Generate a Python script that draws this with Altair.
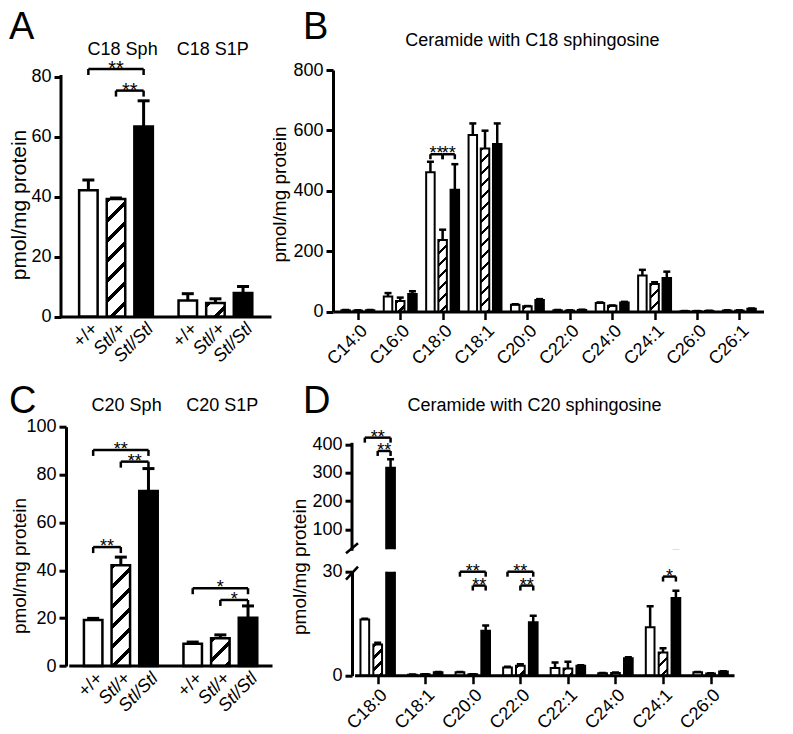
import altair as alt

FONT = "Liberation Sans"
GENOS = ["+/+", "Stl/+", "Stl/Stl"]

# ---------------- data ----------------
# Panel A : per group, values for +/+, Stl/+, Stl/Stl
A_GROUPS = ["C18 Sph", "C18 S1P"]
A_MEAN = [[42.1, 39.2, 63.3], [5.3, 4.5, 7.8]]
A_SEM = [[3.4, 0.3, 8.6], [2.3, 1.4, 2.2]]
A_SIG = [(0, 0, 2, 82.5, "**"), (0, 1, 2, 75.3, "**")]

# Panel C
C_GROUPS = ["C20 Sph", "C20 S1P"]
C_MEAN = [[19.2, 42.1, 73.1], [9.3, 11.6, 20.2]]
C_SEM = [[0.7, 3.4, 9.4], [0.7, 1.4, 4.9]]
C_SIG = [(0, 0, 2, 90.3, "**"), (0, 1, 2, 85.4, "**"), (0, 0, 1, 49.7, "**"),
         (1, 0, 2, 32.5, "*"), (1, 1, 2, 27.6, "*")]

# Panel B : ceramide with C18 sphingosine
B_CATS = ["C14:0", "C16:0", "C18:0", "C18:1", "C20:0", "C22:0", "C24:0", "C24:1", "C26:0", "C26:1"]
B_WT = [4, 50, 461, 585, 22, 4, 28, 119, 1, 3]
B_WT_SEM = [1, 11, 35, 38, 2, 1, 2, 19, 0.5, 1]
B_HET = [3, 35, 237, 540, 17, 3, 19, 91, 1, 3]
B_HET_SEM = [1, 11, 34, 59, 1, 1, 1, 6, 0.5, 1]
B_HOM = [4, 58, 403, 555, 38, 5, 30, 111, 2, 9]
B_HOM_SEM = [1, 9, 85, 68, 3, 1, 2, 21, 0.5, 1]
B_SIG = [(2, 0, 1, 521, "**"), (2, 1, 2, 521, "**")]

# Panel D : ceramide with C20 sphingosine
D_CATS = ["C18:0", "C18:1", "C20:0", "C22:0", "C22:1", "C24:0", "C24:1", "C26:0"]
D_WT = [16.2, 0.3, 1.0, 2.4, 2.2, 0.7, 14.0, 1.0]
D_WT_SEM = [0.2, 0.05, 0.1, 0.2, 1.6, 0.1, 6.0, 0.1]
D_HET = [9.0, 0.4, 0.4, 2.9, 2.1, 0.8, 6.7, 0.6]
D_HET_SEM = [0.5, 0.05, 0.05, 0.4, 1.9, 0.1, 1.2, 0.1]
D_HOM = [317.6, 1.0, 13.0, 15.4, 2.9, 5.0, 22.4, 1.2]
D_HOM_SEM = [29.4, 0.1, 1.5, 1.9, 0.1, 0.3, 2.1, 0.1]
D_SIG_UP = [(0, 0, 2, 423.5, "**"), (0, 1, 2, 376.5, "**")]
D_SIG_LO = [(2, 0, 2, 30.0, "**"), (2, 1, 2, 26.0, "**"),
            (3, 0, 2, 30.0, "**"), (3, 1, 2, 26.0, "**"),
            (6, 1, 2, 28.6, "*")]


# ---------------- helpers ----------------
def hatch(w, h, period, thick):
    """diagonal '/' stripes as a hard-stop linear gradient (45 deg in pixels)"""
    s = w + h
    c = s / (w * w + h * h)
    stops = []
    k = 0
    while k * period < s:
        a = round(k * period / s, 5)
        b = round(min((k * period + thick) / s, 1.0), 5)
        stops += [{"offset": a, "color": "white"}, {"offset": a, "color": "black"},
                  {"offset": b, "color": "black"}, {"offset": b, "color": "white"}]
        k += 1
    stops.append({"offset": 1, "color": "white"})
    return {"gradient": "linear", "x1": 0, "y1": 0,
            "x2": round(w * c, 5), "y2": round(h * c, 5), "stops": stops}


def bar_rows(means_by_geno, sems_by_geno, pos, ppu, w, period, thick):
    rows = []
    for c in range(len(means_by_geno[0])):
        for j in range(3):
            m = means_by_geno[j][c]
            if j == 0:
                paint = "white"
            elif j == 2:
                paint = "black"
            else:
                paint = hatch(w, max(m * ppu, 1.0), period, thick)
            rows.append({"c": c, "j": j, "x": pos(c, j), "y": m,
                         "yu": m + sems_by_geno[j][c], "paint": paint})
    return rows


def sig_rows(sig, pos):
    rows, ends = [], []
    for c, a, b, lvl, s in sig:
        x1, x2 = pos(c, a), pos(c, b)
        rows.append({"x1": x1, "x2": x2, "xm": (x1 + x2) / 2, "y": lvl, "s": s})
        ends += [{"x": x1, "y": lvl}, {"x": x2, "y": lvl}]
    return rows, ends


def panel(rows, sig, ends, texts, letter, P):
    xs = alt.Scale(domain=P["xdom"], nice=False, zero=False)
    ys = alt.Scale(domain=P["ydom"], nice=False, zero=False)
    ax = P.get("axis_px", 0)

    def X(f):
        return alt.X(f, type="quantitative", scale=xs)

    def Y(f):
        return alt.Y(f, type="quantitative", scale=ys)

    data = alt.Data(values=rows)
    layers = [
        alt.Chart(data).mark_bar(orient="vertical", width=P["bw"], stroke="black",
                                 strokeWidth=P["sw"], clip=P["clip"]).encode(
            x=alt.X("x", type="quantitative", scale=xs, axis=P["xaxis"]),
            y=alt.Y("y", type="quantitative", scale=ys, axis=P["yaxis"]),
            fill=alt.Fill("paint", type="nominal", scale=None)),
        alt.Chart(data).mark_rule(color="black", strokeWidth=P["ew"], clip=P["clip"]).encode(
            x=X("x"), y=Y("y"), y2=alt.Y2("yu")),
        alt.Chart(data).mark_tick(orient="horizontal", color="black", opacity=1,
                                  size=P["capw"], thickness=P["ew"], clip=P["clip"]).encode(
            x=X("x"), y=Y("yu")),
    ]
    if P.get("xbase"):
        lo, hi = P["xbase"]
        layers.append(
            alt.Chart(alt.Data(values=[{"x": lo, "x2": hi, "y": P["ydom"][0]}])).mark_rule(
                color="black", strokeWidth=3, strokeCap="square").encode(
                x=X("x"), x2=alt.X2("x2"), y=Y("y")))
    if sig:
        sd = alt.Data(values=sig)
        layers += [
            alt.Chart(sd).mark_rule(color="black", strokeWidth=P["brw"]).encode(
                x=X("x1"), x2=alt.X2("x2"), y=Y("y")),
            alt.Chart(alt.Data(values=ends)).mark_tick(
                orient="vertical", color="black", opacity=1, size=P["brh"],
                thickness=P["brw"], yOffset=P["brh"] / 2).encode(x=X("x"), y=Y("y")),
            alt.Chart(sd).mark_text(font=FONT, fontSize=P["sfs"], dy=P["sdy"],
                                    baseline="alphabetic", align="center", color="black").encode(
                x=X("xm"), y=Y("y"), text=alt.Text("s", type="nominal")),
        ]
    if texts:
        layers.append(
            alt.Chart(alt.Data(values=texts)).mark_text(
                font=FONT, fontSize=18, align="center", baseline="middle", color="black").encode(
                x=X("x"), y=Y("y"), text=alt.Text("t", type="nominal")))
    if letter:
        layers.append(
            alt.Chart(alt.Data(values=[{"x": P["xdom"][0], "y": P["ydom"][1], "t": letter}])).mark_text(
                font=FONT, fontSize=38, align="left", baseline="alphabetic", color="black",
                dx=P["ldx"], dy=P["ldy"]).encode(
                x=X("x"), y=Y("y"), text=alt.Text("t", type="nominal")))
    if P.get("axisrule"):
        lo, hi = P["axisrule"]
        layers.append(
            alt.Chart(alt.Data(values=[{"y": lo, "yu": hi}])).mark_rule(
                color="black", strokeWidth=3, strokeCap="square").encode(
                x=alt.value(ax), y=Y("y"), y2=alt.Y2("yu")))
    if P.get("brk"):
        a, b = P["brk"]
        layers.append(
            alt.Chart(alt.Data(values=[{"k": 1}])).mark_rule(color="black", strokeWidth=2.5).encode(
                x=alt.value(ax - 6), x2=alt.value(ax + 6), y=alt.value(a), y2=alt.value(b)))
    return alt.layer(*layers).properties(width=P["W"], height=P["H"])


def yaxis(values, title_x, title_y, domain=True, title_size=19, offset=0,
          title="pmol/mg protein"):
    kw = dict(values=values, domain=domain, domainWidth=3, offset=offset,
              domainColor="black", tickSize=7, tickWidth=3, tickColor="black",
              labelFontSize=18, labelPadding=3, labelColor="black", labelFont=FONT,
              grid=False)
    if title:
        kw.update(title=title, titleFontSize=title_size, titleFontWeight="normal",
                  titleColor="black", titleFont=FONT, titleX=title_x, titleY=title_y)
    else:
        kw.update(title=None)
    return alt.Axis(**kw)


def geno_xaxis(domain=True):
    return alt.Axis(title=None, values=[0, 1, 2, 3.6, 4.6, 5.6],
                    labelExpr="['+/+','Stl/+','Stl/Stl'][round(datum.value % 3.6)]",
                    labelAngle=-45, labelFontSize=18, labelFont=FONT, labelColor="black",
                    labelFontStyle={"condition": {"test": "round(datum.value % 3.6) > 0",
                                                  "value": "italic"}, "value": "normal"},
                    ticks=False, domain=domain, domainWidth=3, domainColor="black",
                    labelPadding=3, labelOverlap=False, labelFlush=False, grid=False)


def cat_xaxis(cats, domain=True):
    arr = "[" + ",".join("'" + c + "'" for c in cats) + "]"
    return alt.Axis(title=None, values=list(range(len(cats))), labelExpr=arr + "[datum.value]",
                    labelAngle=-45, labelFontSize=18, labelFont=FONT, labelColor="black",
                    tickSize=8, tickWidth=2.5, tickColor="black", domain=domain, domainWidth=3,
                    domainColor="black", labelPadding=2, labelOverlap=False,
                    labelFlush=False, grid=False)


def transpose(m):
    return [[m[g][j] for g in range(len(m))] for j in range(3)]


# ---------------- layout numbers (pixels) ----------------
PAD_ROW = 109.7
C_LEFT_EXTRA = 5           # C's axis sits 5px right of A's
C_W = 210 + C_LEFT_EXTRA
PAD_COL = 337 - 65 - max(210, C_W)
D_LEFT_EXTRA = 19          # D's axis sits 19px right of B's

# ---------------- panel A ----------------
pos_ac = lambda c, j: c * 3.6 + j
A_W, A_H = 210, 246.5
A_TOP = 80 * A_H / 240.0
A_XDOM = [-0.81, -0.81 + A_W / 29.0]
a_rows = bar_rows(transpose(A_MEAN), transpose(A_SEM), pos_ac, A_H / A_TOP, 18.5, 20, 5)
a_sig, a_ends = sig_rows(A_SIG, pos_ac)
pa = panel(a_rows, a_sig, a_ends,
           [{"x": 1.24, "y": 89, "t": A_GROUPS[0]}, {"x": 4.5, "y": 89, "t": A_GROUPS[1]}],
           "A",
           dict(W=A_W, H=A_H, xdom=A_XDOM, ydom=[0, A_TOP], clip=False,
                xaxis=geno_xaxis(),
                yaxis=yaxis([0, 20, 40, 60, 80], -32, 134.5, domain=False, title_size=21),
                bw=18.5, sw=2.5, ew=3, capw=12, brw=2.5, brh=6, sfs=20, sdy=6,
                ldx=-57, ldy=-31.5, axisrule=(0, 80)))

# ---------------- panel B ----------------
B_W, B_H = 431, 241.5
B_XDOM = [-0.468, -0.468 + B_W / 43.4]
pos_b = lambda c, j: c + (j - 1) * 0.288
b_rows = bar_rows([B_WT, B_HET, B_HOM], [B_WT_SEM, B_HET_SEM, B_HOM_SEM], pos_b,
                  B_H / 800.0, 8.5, 12, 3.5)
b_sig, b_ends = sig_rows(B_SIG, pos_b)
pb = panel(b_rows, b_sig, b_ends,
           [{"x": 4.117, "y": 897.7, "t": "Ceramide with C18 sphingosine"}],
           "B",
           dict(W=B_W, H=B_H, xdom=B_XDOM, ydom=[0, 800], clip=False,
                xaxis=cat_xaxis(B_CATS),
                yaxis=yaxis([0, 200, 400, 600, 800], -44, 124),
                bw=8.5, sw=2, ew=2.5, capw=7, brw=2.5, brh=5, sfs=18, sdy=5,
                ldx=-35, ldy=-31.5))

# ---------------- panel C ----------------
C_H = 239.3
C_XDOM = [-0.81 - C_LEFT_EXTRA / 29.0, -0.81 + 210 / 29.0]
c_rows = bar_rows(transpose(C_MEAN), transpose(C_SEM), pos_ac, C_H / 100.0, 18.5, 20, 5)
c_sig, c_ends = sig_rows(C_SIG, pos_ac)
pc = panel(c_rows, c_sig, c_ends,
           [{"x": 1.21, "y": 108.6, "t": C_GROUPS[0]}, {"x": 4.67, "y": 108.6, "t": C_GROUPS[1]}],
           "C",
           dict(W=C_W, H=C_H, xdom=C_XDOM, ydom=[0, 100], clip=False,
                xaxis=geno_xaxis(domain=False),
                yaxis=yaxis([0, 20, 40, 60, 80, 100], -37, 138.8, offset=-C_LEFT_EXTRA),
                xbase=(-0.81, -0.81 + 210 / 29.0),
                bw=18.5, sw=2.5, ew=3, capw=12, brw=2.5, brh=6, sfs=18, sdy=5,
                ldx=-57, ldy=-13.7))

# ---------------- panel D (broken axis) ----------------
D_W = 386 + D_LEFT_EXTRA
D_XDOM = [-0.445 - D_LEFT_EXTRA / 48.76, -0.445 + 386 / 48.76]
pos_d = lambda c, j: c + (j - 1) * 0.2707
D_LO_H = 104
D_UP_H = 105 + 17.6
D_UP_TOP = 30 + D_UP_H * 370 / 105.0
d_rows = bar_rows([D_WT, D_HET, D_HOM], [D_WT_SEM, D_HET_SEM, D_HOM_SEM], pos_d,
                  D_LO_H / 30.0, 8.7, 12, 3.5)
du_sig, du_ends = sig_rows(D_SIG_UP, pos_d)
dl_sig, dl_ends = sig_rows(D_SIG_LO, pos_d)
pd_up = panel(d_rows, du_sig, du_ends,
              [{"x": 3.298, "y": 535, "t": "Ceramide with C20 sphingosine"}],
              "D",
              dict(W=D_W, H=D_UP_H, xdom=D_XDOM, ydom=[30, D_UP_TOP], clip=True,
                   xaxis=None,
                   yaxis=yaxis([100, 200, 300, 400], 0, 0, domain=False, title=None,
                               offset=-D_LEFT_EXTRA),
                   bw=8.7, sw=2, ew=2.5, capw=7, brw=2.5, brh=5, sfs=18, sdy=5,
                   ldx=-35, ldy=-13.7, axisrule=(30, 400), axis_px=D_LEFT_EXTRA,
                   brk=(D_UP_H + 4, D_UP_H - 6)))
pd_lo = panel(d_rows, dl_sig, dl_ends, None, None,
              dict(W=D_W, H=D_LO_H, xdom=D_XDOM, ydom=[0, 30], clip=True,
                   xaxis=cat_xaxis(D_CATS, domain=False),
                   yaxis=yaxis([0, 10, 20, 30], -43, -5.3, offset=-D_LEFT_EXTRA),
                   xbase=(-0.445, -0.445 + 386 / 48.76), axis_px=D_LEFT_EXTRA,
                   bw=8.7, sw=2, ew=2.5, capw=7, brw=2.5, brh=5, sfs=18, sdy=5,
                   brk=(8, -5)))

dpan = alt.vconcat(pd_up, pd_lo, spacing=22, bounds="flush")
chart = (alt.concat(pa, pb, pc, dpan, columns=2, bounds="flush",
                    spacing={"row": PAD_ROW, "column": PAD_COL})
         .properties(padding=0)
         .configure(font=FONT)
         .configure_view(stroke=None))

chart.save("out.html", embed_options={"renderer": "svg", "actions": False})
